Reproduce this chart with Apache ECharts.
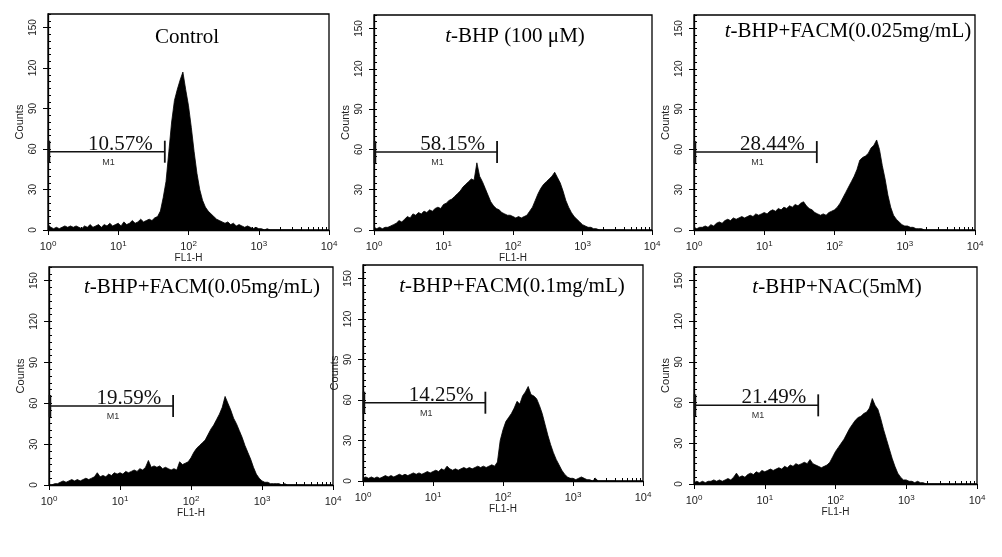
<!DOCTYPE html>
<html><head><meta charset="utf-8">
<script src="https://cdn.jsdelivr.net/npm/echarts@6/dist/echarts.min.js"></script>
<style>html,body{margin:0;padding:0;background:#fff}#c{width:1002px;height:557px}</style>
</head><body><div id="c"></div>
<script>
// ---- data (FL1-H histogram counts, bins every 0.04 decade from 10^0) ----
const binStep = 0.04;
const panelTitles = ['Control', '{i|t}-BHP (100 μM)', '{i|t}-BHP+FACM(0.025mg/mL)',
  '{i|t}-BHP+FACM(0.05mg/mL)', '{i|t}-BHP+FACM(0.1mg/mL)', '{i|t}-BHP+NAC(5mM)'];
const xAxisNames = ['FL1-H', 'FL1-H', '', 'FL1-H', 'FL1-H', 'FL1-H'];
const gatePercents = ['10.57%', '58.15%', '28.44%', '19.59%', '14.25%', '21.49%'];
const gateStart = [1, 1, 1, 1, 1, 1];
const gateEnd = [46, 59, 56, 56, 56, 57];
const gateCount = [58, 58, 58, 58, 58, 58];
const xTickDecades = [0, 1, 2, 3, 4];
const yTickLabels = [0, 30, 60, 90, 120, 150];

const countsControl = [
  4,2,1,2,1,2,3,2,3,2, 3,2,1,3,2,4,2,3,4,2, 4,3,5,3,4,5,3,6,4,5,
  7,5,6,8,6,7,8,7,9,10, 14,24,36,58,80,96,104,111,117,104,
  92,76,58,42,30,22,17,14,12,10, 8,7,6,5,6,4,5,3,4,3,
  2,3,2,1,2,1,1,0,1,0, 0,0,0,0,0,0,0,0,0,0,0];
const countsTBHP = [
  2,1,2,1,2,2,3,4,5,7, 6,8,10,9,12,11,13,12,14,13, 15,14,16,17,16,19,20,22,23,25,
  27,29,32,34,36,38,37,50,40,36, 31,26,21,18,16,15,13,12,11,11,
  10,9,10,9,10,11,14,17,22,27, 31,34,36,38,40,43,39,35,29,22,
  17,13,10,8,6,4,3,2,2,1, 1,0,0,0,0,0,0,0,0,0,0];
const countsFACM025 = [
  2,1,2,2,3,2,4,3,5,6, 5,7,8,7,9,8,9,10,9,10, 11,10,12,11,12,13,12,14,15,14,
  16,15,17,16,18,17,19,18,20,21, 18,16,15,13,12,11,12,11,13,14,
  15,17,20,24,28,32,36,40,45,52, 54,55,57,61,63,67,60,48,38,26,
  17,11,8,6,4,3,3,2,2,1, 1,1,0,0,0,0,0,0,0,0,0];
const countsFACM05 = [
  0,0,1,1,2,3,2,3,4,3, 4,3,4,5,4,5,6,9,6,7, 6,8,7,9,8,9,8,10,9,10,
  11,10,12,11,13,18,13,14,13,14, 12,13,12,11,12,11,17,15,16,17,
  20,24,27,29,31,33,37,41,44,48, 52,57,65,60,55,49,45,40,35,29,
  24,19,13,8,5,3,2,2,1,1, 1,1,0,1,0,0,0,0,0,0,0];
const countsFACM1 = [
  2,3,2,3,2,3,2,3,4,3, 4,3,4,5,4,5,4,5,6,5, 6,5,6,7,6,7,8,7,9,8,
  11,9,8,9,8,9,10,9,10,9, 10,11,10,11,10,11,12,11,14,30,
  38,44,47,50,54,59,57,63,66,70, 64,63,61,56,50,42,34,27,21,16,
  12,8,5,3,2,2,1,2,3,2, 1,1,0,2,0,0,0,0,0,0,0];
const countsNAC = [
  1,2,1,2,1,2,2,3,2,3, 2,3,4,3,5,8,5,6,5,7, 8,7,9,8,10,9,10,11,10,11,
  12,11,13,12,14,13,15,14,15,16, 15,18,15,14,13,12,13,14,16,20,
  24,27,30,33,37,41,44,47,49,50, 52,53,56,63,58,55,48,40,33,26,
  19,13,8,5,3,3,2,2,1,2, 1,1,0,0,0,0,0,0,0,0,0];
const allCounts = [countsControl, countsTBHP, countsFACM025, countsFACM05, countsFACM1, countsNAC];

// ---- layout ----
const gridBoxes = [
  {left: 48, top: 14, width: 281, height: 216},
  {left: 374, top: 15, width: 278, height: 215},
  {left: 694, top: 15, width: 281, height: 215},
  {left: 49, top: 267, width: 284, height: 218},
  {left: 363, top: 265, width: 280, height: 216},
  {left: 694, top: 267, width: 283, height: 217}
];
const titlePos = [[187, 37], [515, 36], [848, 31], [202, 287], [512, 286], [837, 287]];

const SANS = 'Liberation Sans';
const SERIF = 'Liberation Serif';
const minorX = [];
for (let d = 0; d < 4; d++) for (let k = 2; k <= 9; k++) minorX.push(d + Math.log10(k));
const minorY = [];
for (let v = 0; v <= 160; v += 5) minorY.push(v);

const grid = [], xAxis = [], yAxis = [], series = [], graphic = [];
gridBoxes.forEach((g, i) => {
  grid.push(Object.assign({show: true, borderColor: '#000', borderWidth: 1.3, backgroundColor: '#fff'}, g));
  xAxis.push({
    type: 'value', gridIndex: i, min: 0, max: 4, interval: 1,
    axisLine: {show: true, onZero: false, lineStyle: {color: '#000', width: 1.3}},
    axisTick: {show: true, length: 5, lineStyle: {color: '#000'}},
    splitLine: {show: false},
    axisLabel: {
      margin: 10, color: '#222',
      formatter: v => '{a|10}{b|' + v + '}',
      rich: {a: {fontFamily: SANS, fontSize: 11, color: '#222'},
             b: {fontFamily: SANS, fontSize: 8, color: '#222', verticalAlign: 'top', padding: [0, 0, 6, 0]}}
    },
    name: xAxisNames[i], nameLocation: 'middle', nameGap: 21,
    nameTextStyle: {fontFamily: SANS, fontSize: 10, color: '#222'}
  });
  xAxis.push({
    type: 'value', gridIndex: i, min: 0, max: 4,
    axisLine: {show: false}, splitLine: {show: false}, axisLabel: {show: false},
    axisTick: {show: true, length: 3, customValues: minorX, lineStyle: {color: '#000'}}
  });
  yAxis.push({
    type: 'value', gridIndex: i, min: 0, max: 160,
    axisLine: {show: true, onZero: false, lineStyle: {color: '#000', width: 1.3}},
    axisTick: {show: true, length: 5, customValues: yTickLabels, lineStyle: {color: '#000'}},
    splitLine: {show: false},
    axisLabel: {customValues: yTickLabels, rotate: 90, margin: 10,
      fontFamily: SANS, fontSize: 10, color: '#222'},
    name: 'Counts', nameLocation: 'middle', nameRotate: 90, nameGap: 23,
    nameTextStyle: {fontFamily: SANS, fontSize: 11, color: '#222'}
  });
  yAxis.push({
    type: 'value', gridIndex: i, min: 0, max: 160,
    axisLine: {show: false}, splitLine: {show: false}, axisLabel: {show: false},
    axisTick: {show: true, length: 3, customValues: minorY, lineStyle: {color: '#000'}}
  });
  series.push({
    type: 'line', xAxisIndex: 2 * i, yAxisIndex: 2 * i, silent: true,
    showSymbol: false, symbol: 'none',
    lineStyle: {color: '#000', width: 0.8},
    areaStyle: {color: '#000', opacity: 1},
    data: allCounts[i].map((c, k) => [+(k * binStep).toFixed(2), c])
  });
  series.push({
    type: 'custom', xAxisIndex: 2 * i, yAxisIndex: 2 * i, silent: true, z: 5,
    data: [[Math.log10(gateStart[i]), Math.log10(gateEnd[i]), gateCount[i]]],
    encode: {x: [0, 1], y: 2},
    renderItem: (params, api) => {
      const a = api.coord([api.value(0), api.value(2)]);
      const b = api.coord([api.value(1), api.value(2)]);
      return {type: 'group', children: [
        {type: 'line', shape: {x1: a[0], y1: a[1], x2: b[0], y2: b[1]}, style: {stroke: '#111', lineWidth: 1.5}},
        {type: 'line', shape: {x1: a[0] + 1, y1: a[1] - 11, x2: a[0] + 1, y2: a[1] + 11}, style: {stroke: '#111', lineWidth: 2.5}},
        {type: 'line', shape: {x1: b[0], y1: b[1] - 11, x2: b[0], y2: b[1] + 11}, style: {stroke: '#111', lineWidth: 1.8}},
        {type: 'text', x: b[0] - 12, y: a[1] + 3, style: {text: gatePercents[i], align: 'right', verticalAlign: 'bottom',
          fontFamily: SERIF, fontSize: 21, fill: '#111'}},
        {type: 'text', x: (a[0] + b[0]) / 2 + 2, y: a[1] + 6, style: {text: 'M1', align: 'center', verticalAlign: 'top',
          fontFamily: SANS, fontSize: 9, fill: '#333'}}
      ]};
    }
  });
  graphic.push({
    type: 'text', x: titlePos[i][0], y: titlePos[i][1], z: 10,
    style: {text: panelTitles[i], align: 'center', verticalAlign: 'middle',
      fontFamily: SERIF, fontSize: 21, fill: '#000',
      rich: {i: {fontFamily: SERIF, fontSize: 21, fontStyle: 'italic', fill: '#000'}}}
  });
});

const chart = echarts.init(document.getElementById('c'), null, {renderer: 'canvas'});
chart.setOption({animation: false, backgroundColor: '#fff', grid, xAxis, yAxis, series, graphic});
</script>
</body></html>
